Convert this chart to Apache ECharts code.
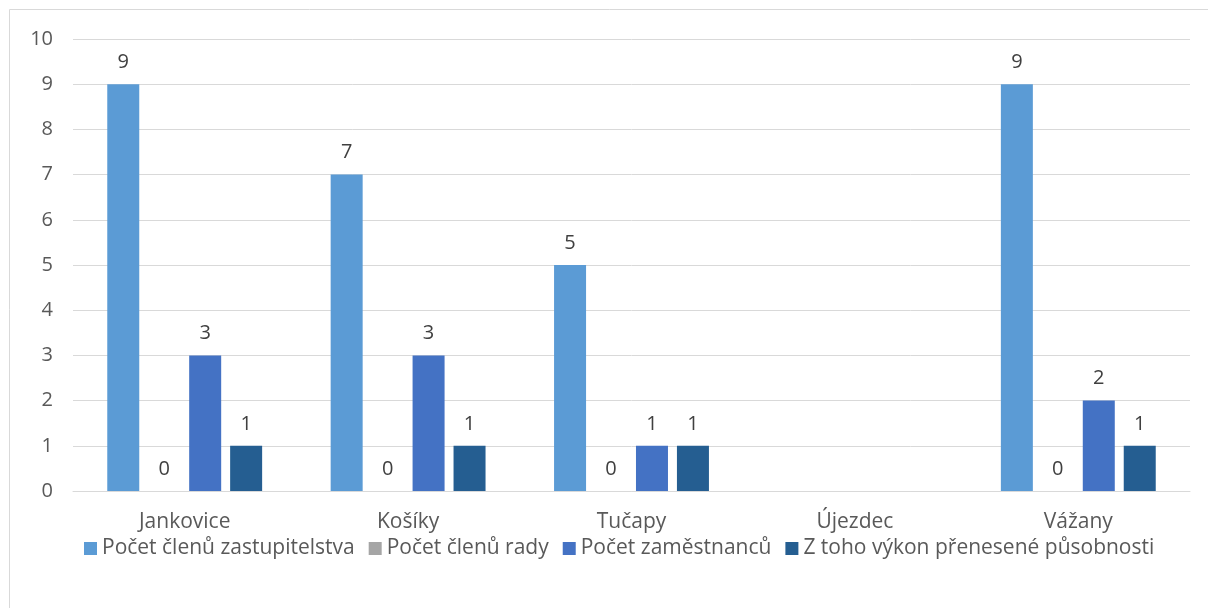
<!DOCTYPE html>
<html>
<head>
<meta charset="utf-8">
<script src="https://cdn.jsdelivr.net/npm/echarts@6/dist/echarts.min.js"></script>
<style>
    html, body { margin: 0; padding: 0; background: #fff; }
    #chart { width: 1208px; height: 608px; }
</style>
</head>
<body>
<div id="chart"></div>
<script>
// obce
const categories = ['Jankovice', 'Košíky', 'Tučapy', 'Újezdec', 'Vážany']
const seriesNames = ['Počet členů zastupitelstva', 'Počet členů rady', 'Počet zaměstnanců', 'Z toho výkon přenesené působnosti']
const zastupitelstvo = [9, 7, 5, null, 9]
const rada = [0, 0, 0, null, 0]
const zamestnanci = [3, 3, 1, null, 2]
const prenesena = [1, 1, 1, null, 1]
const colors = ['#5B9BD5', '#A5A5A5', '#4472C4', '#255E91']

const font = '"Open Sans", "Liberation Sans", sans-serif'

function barSeries(name, data, color) {
    return {
        name: name,
        type: 'bar',
        data: data,
        barWidth: 32,
        barGap: '28%',
        itemStyle: { color: color },
        label: {
            show: true,
            position: 'top',
            distance: 12,
            color: '#404040',
            fontSize: 20,
            fontFamily: font
        }
    }
}

var myChart = echarts.init(document.getElementById('chart'))

var option = {
    animation: false,
    color: colors,
    graphic: [{
        type: 'rect',
        shape: { x: 9.5, y: 9.5, width: 1220, height: 620 },
        style: { fill: 'none', stroke: '#D9D9D9', lineWidth: 1 }
    }],
    grid: { left: 73, right: 18, top: 39, bottom: 117 },
    legend: {
        bottom: 44,
        left: 79,
        itemWidth: 13,
        itemHeight: 13,
        itemGap: 14,
        icon: 'rect',
        textStyle: { color: '#595959', fontSize: 21, fontFamily: font },
        data: seriesNames
    },
    xAxis: {
        type: 'category',
        data: categories,
        axisLine: { lineStyle: { color: '#D9D9D9', width: 1 } },
        axisTick: { show: false },
        axisLabel: { color: '#595959', fontSize: 21, fontFamily: font, margin: 21 }
    },
    yAxis: {
        type: 'value',
        min: 0,
        max: 10,
        interval: 1,
        axisLine: { show: false },
        axisTick: { show: false },
        splitLine: { lineStyle: { color: '#D9D9D9', width: 1 } },
        axisLabel: { color: '#595959', fontSize: 20, fontFamily: font, margin: 20 }
    },
    series: [
        barSeries(seriesNames[0], zastupitelstvo, colors[0]),
        barSeries(seriesNames[1], rada, colors[1]),
        barSeries(seriesNames[2], zamestnanci, colors[2]),
        barSeries(seriesNames[3], prenesena, colors[3])
    ]
}

myChart.setOption(option)
</script>
</body>
</html>
